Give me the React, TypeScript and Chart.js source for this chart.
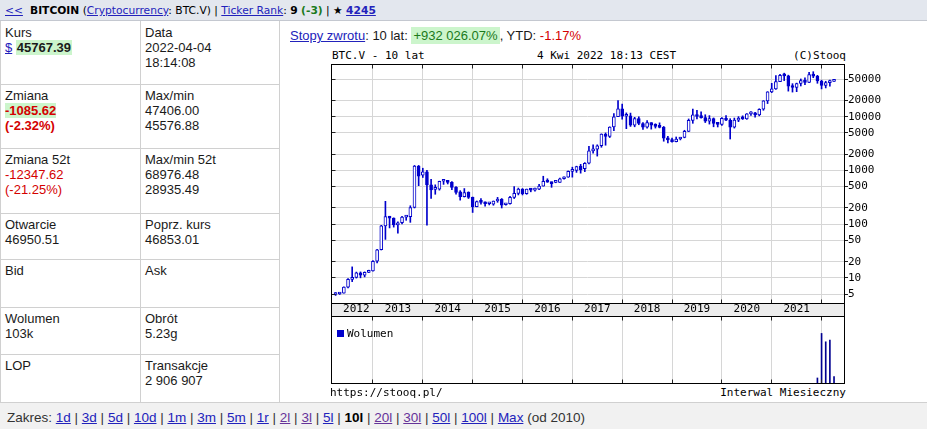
import React, { useEffect, useRef } from "react";
import { Chart, registerables } from "chart.js";
Chart.register(...registerables);

const MONO = '"DejaVu Sans Mono", monospace';
const SANS = 'Arial, "Liberation Sans", sans-serif';
const VERD = '"DejaVu Sans", Verdana, sans-serif';

const CANDLE = "#0000cc";
const VOLC = "#000090";
const GRID = "#d6d6d6";
const LINK = "#2222bb";
const VISITED = "#663399";
const RED = "#d40000";
const GREEN_BG = "#ccf5cc";

// months from 2012-04 (index 0) to 2022-04 (index 120)
const yearLabels = ["2012", "2013", "2014", "2015", "2016", "2017", "2018", "2019", "2020", "2021"];
const yearLabelAt = [5, 15, 27, 39, 51, 63, 75, 87, 99, 111];
const yearStartAt = [9, 21, 33, 45, 57, 69, 81, 93, 105, 117];
const priceTicks = [5, 10, 20, 50, 100, 200, 500, 1000, 2000, 5000, 10000, 20000, 50000];

const opens = [
  4.9, 5.0, 5.2, 6.7, 9.3, 10.2, 12.4, 11.2, 12.6,
  13.5, 20.4, 33.4, 93, 139, 129, 97, 106, 135, 138, 204, 1205,
  815, 946, 540, 445, 450, 630, 630, 600, 485, 400, 324, 390,
  316, 211, 262, 245, 240, 236, 270, 290, 230, 240, 316, 375,
  450, 370, 450, 430, 450, 510, 630, 600, 598, 600, 700, 750,
  960, 1000, 1200, 1080, 1360, 2320, 2480, 2880, 4750, 4300, 6450, 10000,
  14000, 10200, 10400, 7000, 9200, 7500, 6400, 7750, 7000, 6620, 6330, 4000,
  3700, 3450, 3850, 4100, 5350, 8550, 10800, 10100, 9600, 8300, 9200, 7550,
  7200, 9350, 8600, 6400, 8650, 9450, 9150, 11300, 11650, 10800, 13800, 19700,
  29000, 33100, 45200, 58900, 57700, 37300, 35000, 41600, 47100, 43800, 61300, 57000,
  46300, 38500, 43200, 45500,
];
const highs = [
  5.3, 5.2, 6.8, 9.7, 16.0, 12.8, 12.9, 12.9, 13.9,
  21, 34, 95, 266, 140, 131, 111, 140, 145, 220, 1240, 1240,
  1100, 1000, 682, 540, 632, 680, 650, 620, 500, 420, 460, 400,
  320, 270, 300, 260, 250, 270, 315, 300, 245, 330, 500, 470,
  460, 450, 455, 470, 550, 780, 700, 610, 620, 720, 760, 980,
  1150, 1200, 1300, 1400, 2800, 3000, 3000, 4800, 5000, 6500, 11500, 20000,
  17200, 11800, 11700, 9750, 9990, 7750, 8500, 7770, 7400, 7700, 6600, 4300,
  4000, 4200, 4150, 5600, 9100, 13900, 13200, 12300, 10900, 10500, 9500, 7750,
  9600, 10500, 9200, 9450, 10050, 10400, 11450, 12450, 12050, 14100, 19900, 29300,
  41900, 58300, 61700, 64800, 59500, 41300, 42300, 50500, 52900, 67000, 69000, 59100,
  47900, 45800, 48100, 47400,
];
const lows = [
  4.7, 4.9, 5.2, 6.5, 8.5, 9.9, 10.0, 10.4, 12.5,
  13.3, 19, 33, 52, 85, 88, 68, 101, 118, 108, 200, 520,
  740, 96, 300, 360, 430, 550, 560, 440, 360, 280, 320, 300,
  165, 210, 235, 215, 228, 225, 255, 200, 225, 235, 300, 350,
  350, 360, 400, 410, 440, 510, 600, 485, 590, 600, 690, 745,
  750, 920, 890, 950, 1320, 2100, 1850, 2700, 2950, 4100, 5500, 10000,
  9000, 6000, 6600, 6500, 7100, 5800, 6100, 5880, 6150, 6200, 3500, 3250,
  3350, 3400, 3700, 4050, 5300, 7550, 9100, 9400, 7800, 7300, 6500, 6450,
  6900, 8450, 3850, 6150, 8100, 8900, 8950, 10600, 9850, 10400, 13200, 17600,
  28100, 32300, 45000, 47100, 30000, 28800, 29300, 37400, 39600, 43300, 53300, 42000,
  33000, 34400, 37200, 45500,
];
const closes = [
  5.0, 5.1, 6.7, 9.4, 10.2, 12.4, 11.2, 12.6, 13.5,
  20.4, 33.4, 93, 139, 129, 97, 106, 135, 138, 204, 1205, 780,
  946, 540, 433, 447, 630, 630, 600, 485, 389, 324, 388, 316,
  211, 262, 255, 240, 241, 270, 290, 225, 238, 316, 375, 450,
  370, 450, 430, 460, 510, 630, 605, 570, 602, 700, 750, 960,
  1000, 1175, 1020, 1360, 2320, 2480, 2880, 4750, 4300, 6450, 10000, 14000,
  10200, 10400, 7000, 9200, 7500, 6400, 7750, 7000, 6620, 6330, 4000, 3700,
  3450, 3850, 4100, 5350, 8550, 10800, 10100, 9600, 8300, 9200, 7550, 7200,
  9350, 8600, 6400, 8650, 9450, 9150, 11300, 11650, 10800, 13800, 19700, 29000,
  33100, 45200, 58900, 57700, 37300, 35000, 41600, 47100, 43800, 61300, 57000, 46300,
  38500, 43200, 45500, 45767,
];
const volumeAt = [116, 117, 118, 119, 120];
const volumes = [0.75, 7.4, 6.15, 6.4, 0.95];

const X_MIN = -1.1;
const X_MAX = 122.4;

function align(p: number) {
  return Math.round(p - 0.5) + 0.5;
}

function framePlugin(strip: boolean, withY: boolean) {
  return {
    id: "frame" + (strip ? "S" : "V"),
    beforeDraw(chart: any) {
      if (!strip) return;
      const { ctx, chartArea: a } = chart;
      ctx.save();
      ctx.fillStyle = "#ececec";
      ctx.fillRect(a.left, a.bottom, a.right - a.left, chart.height - a.bottom);
      ctx.restore();
    },
    afterDraw(chart: any) {
      const { ctx, chartArea: a } = chart;
      const L = align(a.left), T = align(a.top), R = align(a.right), B = align(a.bottom);
      ctx.save();
      ctx.strokeStyle = "#222";
      ctx.lineWidth = 1;
      ctx.beginPath();
      const xs = chart.scales.x;
      for (const v of yearStartAt) {
        const px = align(xs.getPixelForValue(v));
        ctx.moveTo(px, T);
        ctx.lineTo(px, T + 4);
        ctx.moveTo(px, B);
        ctx.lineTo(px, B - 4);
      }
      if (withY) {
        const ys = chart.scales.y;
        for (const v of priceTicks) {
          const py = align(ys.getPixelForValue(v));
          ctx.moveTo(L, py);
          ctx.lineTo(L + 4, py);
        }
      }
      ctx.stroke();
      ctx.strokeStyle = "#000";
      ctx.strokeRect(L, T, R - L, B - T);
      if (strip) {
        ctx.beginPath();
        ctx.moveTo(L, B);
        ctx.lineTo(L, chart.height);
        ctx.moveTo(R, B);
        ctx.lineTo(R, chart.height);
        ctx.stroke();
      }
      ctx.restore();
    },
  };
}

const gridX = {
  type: "linear",
  position: "bottom",
  min: X_MIN,
  max: X_MAX,
  offset: false,
  grid: { display: true, offset: false, color: GRID, drawTicks: false, lineWidth: 1 },
  border: { display: false },
  ticks: { display: false },
  afterBuildTicks: (s: any) => {
    s.ticks = yearStartAt.map((v) => ({ value: v }));
  },
  afterFit: (s: any) => {
    s.height = 0;
  },
};

export default function App() {
  const priceRef = useRef<HTMLCanvasElement>(null);
  const volRef = useRef<HTMLCanvasElement>(null);

  useEffect(() => {
    const wicks = closes.map((_, i) => ({ x: i, y: [lows[i], highs[i]] }));
    const bodies = closes.map((c, i) => ({ x: i, y: [Math.min(opens[i], c), Math.max(opens[i], c)] }));
    const bodyFill = closes.map((c, i) => (c >= opens[i] ? "#ffffff" : CANDLE));

    const price = new Chart(priceRef.current as HTMLCanvasElement, {
      type: "bar",
      data: {
        datasets: [
          {
            data: bodies as any,
            backgroundColor: bodyFill,
            borderColor: CANDLE,
            borderWidth: 1,
            borderSkipped: false,
            barThickness: 3,
            minBarLength: 2,
            grouped: false,
          } as any,
          {
            data: wicks as any,
            backgroundColor: CANDLE,
            borderWidth: 0,
            barThickness: 1,
            minBarLength: 1,
            grouped: false,
          } as any,
        ],
      },
      options: {
        animation: false,
        responsive: false,
        events: [],
        layout: { padding: { left: 11, top: 24, right: 0, bottom: 0 } },
        plugins: { legend: { display: false }, tooltip: { enabled: false } },
        scales: {
          x: gridX as any,
          xl: {
            type: "linear",
            position: "bottom",
            min: X_MIN,
            max: X_MAX,
            offset: false,
            grid: { display: false, offset: false, drawTicks: false },
            border: { display: false },
            ticks: {
              padding: 0,
              autoSkip: false,
              maxRotation: 0,
              color: "#000",
              font: { family: MONO, size: 11 },
              callback: (_v: any, i: number) => yearLabels[i],
            },
            afterBuildTicks: (s: any) => {
              s.ticks = yearLabelAt.map((v) => ({ value: v }));
            },
            afterFit: (s: any) => {
              s.height = 13;
            },
          } as any,
          y: {
            type: "logarithmic",
            position: "right",
            min: 3.4,
            max: 96000,
            grid: { color: GRID, tickColor: "#222", tickLength: 4, drawTicks: true },
            border: { display: false },
            ticks: {
              padding: 0,
              autoSkip: false,
              color: "#000",
              font: { family: MONO, size: 11 },
              callback: (v: any) => String(v),
            },
            afterBuildTicks: (s: any) => {
              s.ticks = priceTicks.map((v) => ({ value: v }));
            },
            afterFit: (s: any) => {
              s.width = 56;
            },
          } as any,
        },
      },
      plugins: [framePlugin(true, true)],
    });

    const vol = new Chart(volRef.current as HTMLCanvasElement, {
      type: "bar",
      data: {
        datasets: [
          {
            data: volumes.map((v, i) => ({ x: volumeAt[i], y: v })) as any,
            backgroundColor: VOLC,
            borderWidth: 0,
            barThickness: 1,
            grouped: false,
          } as any,
        ],
      },
      options: {
        animation: false,
        responsive: false,
        events: [],
        layout: { padding: { left: 11, top: 0, right: 56, bottom: 1 } },
        plugins: { legend: { display: false }, tooltip: { enabled: false } },
        scales: {
          x: gridX as any,
          y: { type: "linear", min: 0, max: 10, display: false } as any,
        },
      },
      plugins: [framePlugin(false, false)],
    });

    return () => {
      price.destroy();
      vol.destroy();
    };
  }, []);

  const line = (l: number, t: number, w: number, h: number) => (
    <div style={{ position: "absolute", left: l, top: t, width: w, height: h, background: "#d0d0d0" }} />
  );
  const cell = (l: number, t: number, lines: React.ReactNode[]) => (
    <div style={{ position: "absolute", left: l, top: t + 4, font: `13px ${SANS}`, lineHeight: "15px", color: "#1a1a1a", whiteSpace: "nowrap" }}>
      {lines.map((c, i) => (
        <div key={i}>{c}</div>
      ))}
    </div>
  );
  const a = (txt: string, color = LINK, bold = false) => (
    <span style={{ color, textDecoration: "underline", fontWeight: bold ? "bold" : "normal" }}>{txt}</span>
  );
  const sep = " | ";
  const ranges: [string, string, boolean][] = [
    ["1d", LINK, false], ["3d", LINK, false], ["5d", LINK, false], ["10d", LINK, false],
    ["1m", LINK, false], ["3m", LINK, false], ["5m", LINK, false], ["1r", LINK, false],
    ["2l", VISITED, false], ["3l", VISITED, false], ["5l", LINK, false], ["10l", "#000", true],
    ["20l", VISITED, false], ["30l", VISITED, false], ["50l", LINK, false], ["100l", LINK, false],
    ["Max", LINK, false],
  ];

  const mono: React.CSSProperties = { position: "absolute", font: `11px ${MONO}`, lineHeight: "13px", color: "#000", whiteSpace: "pre" };

  return (
    <div style={{ position: "absolute", left: 0, top: 0, width: 927, height: 429, overflow: "hidden", background: "#fff" }}>
      {/* header */}
      <div style={{ position: "absolute", left: 0, top: 0, width: 927, height: 20, background: "#e3e7ee", borderBottom: "1px solid #c4c8d0", font: `10.7px ${VERD}`, lineHeight: "21px", color: "#000", whiteSpace: "nowrap" }}>
        <span style={{ position: "absolute", left: 5 }}>{a("<<")}</span>
        <span style={{ position: "absolute", left: 30 }}>
          <b>BITCOIN</b> ({a("Cryptocurrency")}: BTC.V) | {a("Ticker Rank")}: <b>9</b> <b style={{ color: "#1b7a1b" }}>(-3)</b> | ★ {a("4245", LINK, true)}
        </span>
      </div>

      {/* table grid */}
      {line(0, 21, 1, 381)}
      {line(140, 21, 1, 381)}
      {line(279, 21, 1, 381)}
      {line(0, 84, 279, 1)}
      {line(0, 148, 279, 1)}
      {line(0, 213, 279, 1)}
      {line(0, 259, 279, 1)}
      {line(0, 307, 279, 1)}
      {line(0, 354, 279, 1)}

      {cell(5, 21, ["Kurs", <span>{a("$")} <b style={{ background: GREEN_BG, padding: "0 1px" }}>45767.39</b></span>])}
      {cell(145, 21, ["Data", "2022-04-04", "18:14:08"])}
      {cell(5, 84, ["Zmiana", <b style={{ color: RED, background: GREEN_BG }}>-1085.62</b>, <b style={{ color: RED }}>(-2.32%)</b>])}
      {cell(145, 84, ["Max/min", "47406.00", "45576.88"])}
      {cell(5, 148, ["Zmiana 52t", <span style={{ color: RED }}>-12347.62</span>, <span style={{ color: RED }}>(-21.25%)</span>])}
      {cell(145, 148, ["Max/min 52t", "68976.48", "28935.49"])}
      {cell(5, 213, ["Otwarcie", "46950.51"])}
      {cell(145, 213, ["Poprz. kurs", "46853.01"])}
      {cell(5, 259, ["Bid"])}
      {cell(145, 259, ["Ask"])}
      {cell(5, 307, ["Wolumen", "103k"])}
      {cell(145, 307, ["Obrót", "5.23g"])}
      {cell(5, 354, ["LOP"])}
      {cell(145, 354, ["Transakcje", "2 906 907"])}

      {/* footer */}
      <div style={{ position: "absolute", left: 0, top: 402, width: 927, height: 27, background: "#f1f1f1", borderTop: "1px solid #d0d0d0", font: `13.5px ${SANS}`, lineHeight: "15px", color: "#333", whiteSpace: "nowrap" }}>
        <div style={{ position: "absolute", left: 7, top: 7 }}>
          Zakres:{" "}
          {ranges.map(([t, c, b], i) => (
            <React.Fragment key={t}>
              {b ? <b style={{ color: c }}>{t}</b> : a(t, c)}
              {i < ranges.length - 1 ? sep : ""}
            </React.Fragment>
          ))}{" "}
          (od 2010)
        </div>
      </div>

      {/* returns line */}
      <div style={{ position: "absolute", left: 290, top: 28, font: `13px ${SANS}`, lineHeight: "15px", color: "#1a1a1a", whiteSpace: "nowrap" }}>
        {a("Stopy zwrotu")}: 10 lat: <span style={{ color: "#1b7a1b", background: GREEN_BG, padding: "1px 2px" }}>+932 026.07%</span>, YTD: <span style={{ color: RED }}>-1.17%</span>
      </div>

      {/* chart titles */}
      <div style={{ ...mono, left: 332, top: 49 }}>BTC.V - 10 lat</div>
      <div style={{ ...mono, left: 537, top: 49 }}>4 Kwi 2022 18:13 CEST</div>
      <div style={{ ...mono, right: 927 - 846, top: 49 }}>(C)Stooq</div>

      <canvas ref={priceRef} width={580} height={276} style={{ position: "absolute", left: 320, top: 40, width: 580, height: 276 }} />
      <canvas ref={volRef} width={580} height={68} style={{ position: "absolute", left: 320, top: 316, width: 580, height: 68 }} />

      {/* volume legend */}
      <div style={{ position: "absolute", left: 337, top: 330, width: 7, height: 7, background: CANDLE }} />
      <div style={{ ...mono, left: 347, top: 327 }}>Wolumen</div>

      <div style={{ ...mono, left: 330, top: 386 }}>https://stooq.pl/</div>
      <div style={{ ...mono, right: 927 - 846, top: 386 }}>Interwal Miesieczny</div>
    </div>
  );
}
